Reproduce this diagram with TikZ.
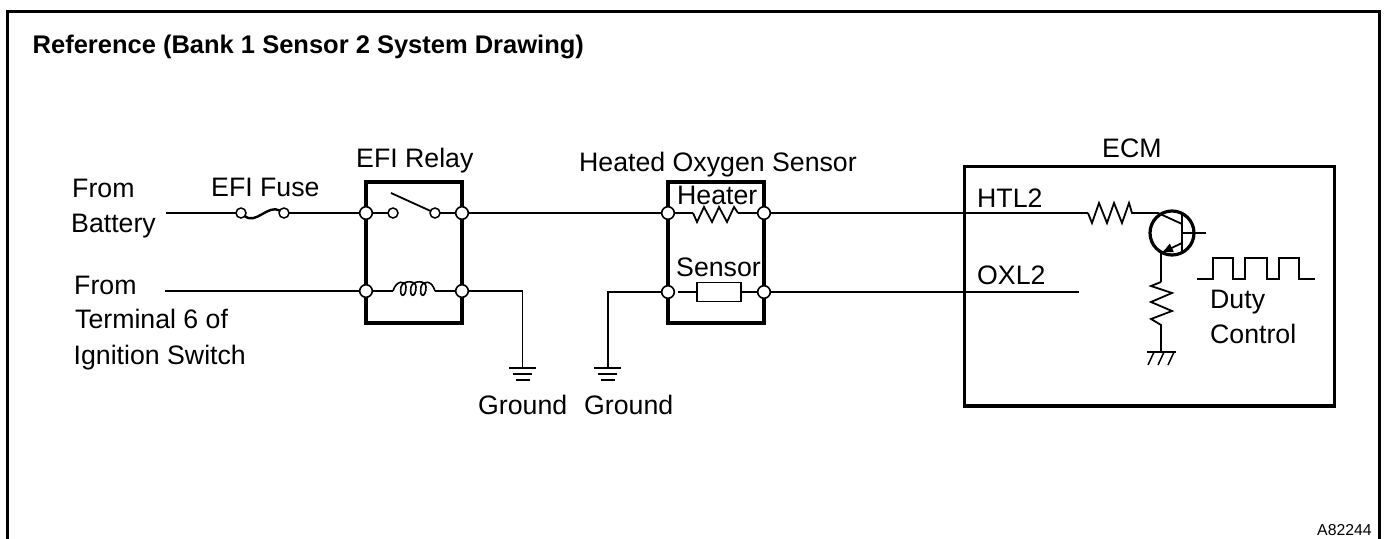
\documentclass[tikz,border=0pt]{standalone}
\usepackage{fontspec}
\setmainfont{Liberation Sans}
\usetikzlibrary{arrows.meta}
\tikzset{
 x=1pt,y=-1pt,
 wire/.style={line width=1.8pt,line join=miter},
 boxs/.style={draw,line width=3.2pt,fill=none,inner sep=0pt,outer sep=0pt,anchor=north west},
 term/.style={circle,draw,fill=white,line width=1.6pt,minimum size=12.6pt,inner sep=0pt,outer sep=0pt},
 smallterm/.style={circle,draw,fill=white,line width=1.5pt,minimum size=10pt,inner sep=0pt,outer sep=0pt},
 lab/.style={anchor=base west,inner sep=0pt,font=\fontsize{26.7}{30}\selectfont},
}
\begin{document}
\begin{tikzpicture}
\useasboundingbox (0,0) rectangle (1386,538);
% frame
\draw[line width=3pt] (7.5,540) -- (7.5,11) -- (1379.5,11) -- (1379.5,540);
% boxes
\node[boxs,minimum width=96pt,minimum height=141pt] (relay) at (366,182) {};
\node[boxs,minimum width=96pt,minimum height=141pt] (hos) at (668,182) {};
\node[boxs,minimum width=370pt,minimum height=239.5pt] (ecm) at (964.5,166.5) {};
% terminals
\coordinate (fb) at (166,213);
\coordinate (ft) at (165,291);
\node[smallterm] (f1) at (241,213) {};
\node[smallterm] (f2) at (284,213) {};
\node[term] (r1) at (366,213) {};
\node[term] (r2) at (462,213) {};
\node[term] (r3) at (366,291) {};
\node[term] (r4) at (462,291) {};
\node[smallterm] (s1) at (393,213) {};
\node[smallterm] (s2) at (435,213) {};
\node[term] (h1) at (668,213) {};
\node[term] (h2) at (764,213) {};
\node[term] (h3) at (668,292) {};
\node[term] (h4) at (764,292) {};
% wires
\draw[wire] (fb) -- (f1);
\draw[wire,line width=2.4pt] (f1) .. controls (256,225) and (268,204) .. (f2);
\draw[wire] (f2) -- (r1);
\draw[wire] (r1) -- (s1);
\draw[wire] (s2) -- (r2);
\coordinate (armtip) at (391,193);
\draw[wire] (armtip) -- (s2);
\draw[wire] (ft) -- (r3);
\draw[wire] (r2) -- (h1);
% relay coil
\coordinate (c1) at (393,291);
\coordinate (c2) at (435,291);
\draw[wire] (r3) -- (c1);
\draw[wire] (c2) -- (r4);
\draw[wire,line width=1.6pt] (c1) .. controls (396,280) and (406,280) .. (406,287)
 .. controls (406,298) and (399,298) .. (401,287)
 .. controls (403,280) and (416,280) .. (416,287)
 .. controls (416,298) and (409,298) .. (411,287)
 .. controls (413,280) and (426,280) .. (426,287)
 .. controls (426,298) and (419,298) .. (421,287)
 .. controls (423,280) and (432,280) .. (c2);
% ground 1
\coordinate (g1) at (522.5,291);
\coordinate (g1b) at (522.5,368);
\draw[wire] (r4) -- (g1) -- (g1b);
\draw[line width=2.8pt] (509,368) -- (536,368);
\draw[line width=1.6pt] (513,374) -- (532,374);
\draw[line width=1.6pt] (515.5,380) -- (529.5,380);
% ground 2
\coordinate (g2) at (608,292);
\coordinate (g2b) at (608,368);
\draw[wire] (h3) -- (g2) -- (g2b);
\draw[line width=2.8pt] (594,368) -- (621,368);
\draw[line width=1.6pt] (598,374) -- (617,374);
\draw[line width=1.6pt] (600.5,380) -- (614.5,380);
% heater resistor
\coordinate (hr1) at (693,213);
\coordinate (hr2) at (738,213);
\draw[wire] (h1) -- (hr1);
\draw[wire] (hr2) -- (h2);
\draw[wire] (hr1) -- (697,222) -- (704,207) -- (712,222) -- (719,207) -- (727,222) -- (734,207) -- (hr2);
% sensor element
\node[draw,line width=1.5pt,minimum width=44pt,minimum height=19pt,inner sep=0pt,outer sep=0pt,anchor=north west] (se) at (697,282.5) {};
\coordinate (sl) at (678,292);
\draw[line width=1.3pt] (sl) -- (se.west);
\draw[line width=1.3pt] (se.east) -- (h4);
% ECM wires
\coordinate (er1) at (1088,213);
\coordinate (er2) at (1132,213);
\coordinate (tb) at (1158,213);
\draw[wire] (h2) -- (er1);
\draw[wire] (er1) -- (1092,223) -- (1099,203) -- (1107,223) -- (1114,203) -- (1122,223) -- (1129,203) -- (er2) -- (tb);
\coordinate (ox) at (1079,292);
\draw[wire] (h4) -- (ox);
% transistor
\node[circle,draw,line width=3.2pt,minimum size=44pt,inner sep=0pt,outer sep=0pt] (q) at (1172,233) {};
\coordinate (bb1) at (1182,213);
\coordinate (bb2) at (1182,253);
\coordinate (bl) at (1206,233);
\coordinate (ce) at (1182,224);
\coordinate (em) at (1182,243);
\coordinate (et) at (1161,253);
\draw[line width=2.6pt] (bb1) -- (bb2);
\draw[wire] (1182,233) -- (bl);
\draw[wire] (tb) -- (ce);
\draw[wire,-{Latex[length=12pt,width=10pt]}] (em) -- (et);
% emitter resistor
\coordinate (r5) at (1161,282);
\coordinate (r6) at (1161,325);
\coordinate (eg) at (1161,352);
\draw[wire] (et) -- (r5);
\draw[wire] (r5) -- (1151,286) -- (1172,293) -- (1151,302) -- (1172,311) -- (1151,319) -- (r6) -- (eg);
\draw[line width=2.4pt] (1147,352) -- (1176,352);
\foreach \hx in {1150,1160,1170} \draw[line width=1.5pt] (\hx,352) ++(4,0) -- ++(-6,13);
% pulses
\draw[line width=2.8pt,line join=miter] (1197,279) -- (1213,279) -- (1213,258) -- (1233,258) -- (1233,279) -- (1245,279) -- (1245,258) -- (1267,258) -- (1267,279) -- (1279,279) -- (1279,258) -- (1299,258) -- (1299,279) -- (1315,279);
% labels
\node[anchor=base west,inner sep=0pt,font=\bfseries\fontsize{25.5}{28}\selectfont] (title) at (32.5,53.5) {Reference (Bank 1 Sensor 2 System Drawing)};
\node[lab] (l1) at (72,197) {From};
\node[lab] (l2) at (71,232) {Battery};
\node[lab] (l3) at (74,294) {From};
\node[lab] (l4) at (75,328) {Terminal 6 of};
\node[lab] (l5) at (73.5,364) {Ignition Switch};
\node[lab] (l6) at (211,196) {EFI Fuse};
\node[lab] (l7) at (356,167) {EFI Relay};
\node[lab] (l8) at (579,171) {Heated Oxygen Sensor};
\node[lab] (l9) at (677,204) {Heater};
\node[lab] (l10) at (676,276) {Sensor};
\node[lab] (l11) at (478,414) {Ground};
\node[lab] (l12) at (584,414) {Ground};
\node[lab] (l13) at (1102,157) {ECM};
\node[lab] (l14) at (977,207) {HTL2};
\node[lab] (l15) at (977,284) {OXL2};
\node[lab] (l16) at (1210,308) {Duty};
\node[lab] (l17) at (1210,343) {Control};
\node[anchor=base west,inner sep=0pt,font=\fontsize{15.8}{18}\selectfont] (l18) at (1317,535) {A82244};
\end{tikzpicture}
\end{document}
